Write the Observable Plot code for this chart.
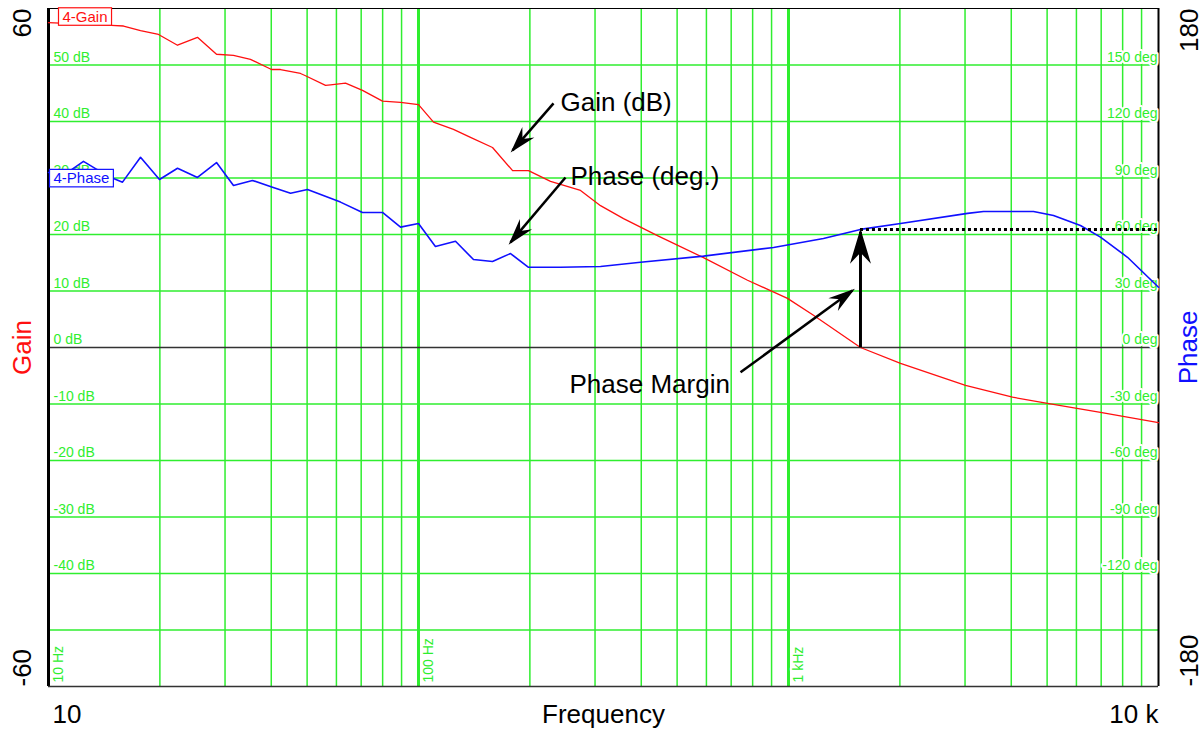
<!DOCTYPE html>
<html><head><meta charset="utf-8">
<script src="https://cdn.jsdelivr.net/npm/d3@7"></script>
<script src="https://cdn.jsdelivr.net/npm/@observablehq/plot@0.6"></script>
<style>
body{margin:0;background:#fff;}
#chart svg{display:block;}
</style></head><body><div id="chart"></div>
<script>
// ---- data ----
const gainHz = [10,14.8,15.95,17.73,19.83,22.32,25.27,28.45,31.62,35.14,40.06,42.36,47.98,49.5,56.07,57.84,63.5,70.57,79.92,89.42,100,109.8,124.3,138.2,158.5,179.6,198.3,227.4,274.1,310.4,358.3,442.4,589.2,774.9,993.8,1168,1565,2008,3009,4031,5012,6969,10000];
const gainDb = [57.5,57.0,56.9,56.1,55.4,53.5,54.9,51.9,51.7,51.0,49.2,49.2,48.5,48.1,46.4,46.5,46.8,45.5,43.6,43.4,43.0,39.9,38.6,37.2,35.4,31.3,31.3,29.4,27.8,25.1,22.8,19.8,15.9,11.9,8.7,5.7,0,-2.8,-6.7,-8.8,-9.9,-11.5,-13.3];
const phaseHz = [10,11.47,12.43,13.4,14.99,15.85,17.73,19.95,22.32,25.27,28.45,31.62,35.59,40.31,45.1,50.12,61.53,70.57,79.92,89.42,100,111.1,125.9,140.8,158.5,177.3,198.3,242,310.4,398.1,589.2,911,1243,1565,2008,3047,3365,4594,5203,6153,6969,8245,10000];
const phaseDeg = [92.9,94.0,98.8,95.0,89.7,87.8,101.0,89.2,95.2,90.3,98.2,86.0,88.7,85.1,81.9,83.9,77.2,71.7,71.7,63.9,65.8,53.6,56.4,46.7,45.7,49.9,42.6,42.6,43.0,45.3,48.5,53.1,57.9,62.7,65.8,71.2,72.2,72.2,70.1,64.8,58.6,47.9,32.0];

const gainTicks = [50,40,30,20,10,0,-10,-20,-30,-40];
const phaseTicks = [150,120,90,60,30,0,-30,-60,-90,-120];
const gridDb = [-50,-40,-30,-20,-10,10,20,30,40,50];
const minorHz = [20,30,40,50,60,70,80,90,200,300,400,500,600,700,800,900,2000,3000,4000,5000,6000,7000,8000,9000];
const decadeHz = [100,1000];
const freqLabelHz = [10,100,1000];
const freqLabels = ["10 Hz","100 Hz","1 kHz"];

const crossoverHz = 1565;     // gain = 0 dB
const phaseMarginDeg = 62.7;  // phase at crossover

const annotText = ["Gain (dB)","Phase (deg.)","Phase Margin"];
const annotHz = [242,257.5,255.9];
const annotDb = [41.8,28.7,-8.0];
const arrowFromHz = [231.7,249.6,741.9];
const arrowFromDb = [43.2,30.1,-4.4];
const arrowToHz = [179.6,177.3,1489];
const arrowToDb = [34.9,18.6,10.1];

// ---- tables ----
const gainData = gainHz.map((f,i)=>({f, v: gainDb[i]}));
const phaseData = phaseHz.map((f,i)=>({f, v: phaseDeg[i]}));
const annots = annotText.map((t,i)=>({t, f: annotHz[i], v: annotDb[i]}));
const arrows = arrowFromHz.map((f,i)=>({f1:f, v1:arrowFromDb[i], f2:arrowToHz[i], v2:arrowToDb[i]}));
const pmArrow = [{f1: crossoverHz, v1: 0, f2: crossoverHz, v2: phaseMarginDeg/3 - 0.4}];
const pmLine = [{f1: crossoverHz, f2: 10000, v: phaseMarginDeg/3}];

const GREEN = "#2fee2f";
const FONT = "'Liberation Sans', Arial, Helvetica, sans-serif";
const big = 26;

const chart = Plot.plot({
  width: 1202, height: 734,
  marginLeft: 48, marginRight: 44, marginTop: 8, marginBottom: 48,
  style: {fontFamily: FONT, background: "#fff", overflow: "visible"},
  x: {type: "log", domain: [10, 10000], axis: null},
  y: {domain: [-60, 60], axis: null},
  marks: [
    Plot.ruleX(minorHz, {stroke: GREEN, strokeWidth: 1.5}),
    Plot.ruleX(decadeHz, {stroke: GREEN, strokeWidth: 3}),
    Plot.ruleY(gridDb, {stroke: GREEN, strokeWidth: 1.5}),
    Plot.ruleY([0], {stroke: "#333", strokeWidth: 1.5}),
    // frame
    Plot.ruleX([10], {stroke: "#000", strokeWidth: 3}),
    Plot.ruleX([10000], {stroke: "#000", strokeWidth: 2}),
    Plot.ruleY([-60], {stroke: "#333", strokeWidth: 1.5}),
    Plot.ruleY([60], {stroke: "#000", strokeWidth: 1}),
    // grid labels
    Plot.text(gainTicks, {y: d=>d, text: d=>`${d} dB`, frameAnchor: "left", dx: 5, dy: -3.5, textAnchor: "start", lineAnchor: "bottom", fill: GREEN, fontSize: 14, stroke: "#fff", strokeWidth: 4, paintOrder: "stroke"}),
    Plot.text(phaseTicks, {y: d=>d/3, text: d=>`${d} deg`, frameAnchor: "right", dx: -1, dy: -3.5, textAnchor: "end", lineAnchor: "bottom", fill: GREEN, fontSize: 14, stroke: "#fff", strokeWidth: 4, paintOrder: "stroke"}),
    Plot.text(freqLabelHz, {x: d=>d, text: (d,i)=>freqLabels[i], frameAnchor: "bottom", rotate: -90, dx: 14, dy: -4, textAnchor: "start", lineAnchor: "bottom", fill: GREEN, fontSize: 14, stroke: "#fff", strokeWidth: 4, paintOrder: "stroke"}),
    // curves
    Plot.line(gainData, {x: "f", y: "v", stroke: "#ff1010", strokeWidth: 1.3}),
    Plot.line(phaseData, {x: "f", y: d=>d.v/3, stroke: "#1010ff", strokeWidth: 1.6}),
    // phase margin
    Plot.ruleY(pmLine, {y: "v", x1: "f1", x2: "f2", stroke: "#000", strokeWidth: 3, strokeDasharray: "3,3"}),
    Plot.link(pmArrow, {x1: "f1", y1: "v1", x2: "f2", y2: "v2", stroke: "#000", strokeWidth: 3}),
    Plot.link(arrows, {x1: "f1", y1: "v1", x2: "f2", y2: "v2", stroke: "#000", strokeWidth: 2.5}),
    Plot.text(annots, {x: "f", y: "v", text: "t", textAnchor: "start", lineAnchor: "bottom", fontSize: big, fill: "#000"}),
    // legend boxes
    Plot.text(["4-Gain"], {x: 10, y: 58.5, dx: 14, textAnchor: "start", lineAnchor: "middle", fontSize: 15, fill: "#ff1010"}),
    Plot.text(["4-Phase"], {x: 10, y: 29.9, dx: 5, textAnchor: "start", lineAnchor: "middle", fontSize: 15, fill: "#1010ff"}),
    // outer axis labels
    Plot.text(["60"], {frameAnchor: "top-left", rotate: -90, dx: -18, textAnchor: "end", lineAnchor: "bottom", fontSize: big, fill: "#000"}),
    Plot.text(["-60"], {frameAnchor: "bottom-left", rotate: -90, dx: -18, textAnchor: "start", lineAnchor: "bottom", fontSize: big, fill: "#000"}),
    Plot.text(["Gain"], {frameAnchor: "left", rotate: -90, dx: -18, textAnchor: "middle", lineAnchor: "bottom", fontSize: big, fill: "#ff1010"}),
    Plot.text(["180"], {frameAnchor: "top-right", rotate: -90, dx: 39, textAnchor: "end", lineAnchor: "bottom", fontSize: big, fill: "#000"}),
    Plot.text(["-180"], {frameAnchor: "bottom-right", rotate: -90, dx: 39, textAnchor: "start", lineAnchor: "bottom", fontSize: big, fill: "#000"}),
    Plot.text(["Phase"], {frameAnchor: "right", rotate: -90, dx: 38, textAnchor: "middle", lineAnchor: "bottom", fontSize: big, fill: "#1010ff"}),
    Plot.text(["10"], {frameAnchor: "bottom-left", dx: 4, dy: 36, textAnchor: "start", lineAnchor: "bottom", fontSize: big, fill: "#000"}),
    Plot.text(["Frequency"], {frameAnchor: "bottom", dy: 36, textAnchor: "middle", lineAnchor: "bottom", fontSize: big, fill: "#000"}),
    Plot.text(["10 k"], {frameAnchor: "bottom-right", dy: 36, textAnchor: "end", lineAnchor: "bottom", fontSize: big, fill: "#000"})
  ]
});
document.getElementById("chart").append(chart);

// filled barbed arrowheads
const svg = d3.select(chart);
const defs = svg.insert("defs", ":first-child");
function marker(id, len, half, notch) {
  defs.append("marker").attr("id", id)
    .attr("viewBox", `${-len-2} ${-half-1} ${len+6} ${2*half+2}`)
    .attr("refX", 0).attr("refY", 0)
    .attr("markerWidth", len+6).attr("markerHeight", 2*half+2)
    .attr("markerUnits", "userSpaceOnUse").attr("orient", "auto")
    .append("path").attr("d", `M3,0L${-len},${-half}L${-notch},0L${-len},${half}Z`).attr("fill", "#000").attr("stroke", "none");
}
marker("barb", 24, 8, 15);
marker("barbBig", 32, 10.5, 21);
const linkGroups = svg.selectAll('g[aria-label="link"]').nodes();
if (linkGroups[0]) d3.select(linkGroups[0]).selectAll("path").attr("marker-end", "url(#barbBig)");
if (linkGroups[1]) d3.select(linkGroups[1]).selectAll("path").attr("marker-end", "url(#barb)");

// legend boxes behind legend texts
for (const [label, color] of [["4-Gain", "#ff1010"], ["4-Phase", "#1010ff"]]) {
  const t = svg.selectAll("text").filter(function(){ return this.textContent === label; });
  const node = t.node();
  if (!node) continue;
  const b = node.getBBox();
  d3.select(node.parentNode).insert("rect", () => node)
    .attr("transform", t.attr("transform"))
    .attr("x", b.x - 4).attr("y", b.y)
    .attr("width", b.width + 8).attr("height", b.height + 0.5)
    .attr("fill", "#fff").attr("stroke", color).attr("stroke-width", 1.2);
}
</script></body></html>
